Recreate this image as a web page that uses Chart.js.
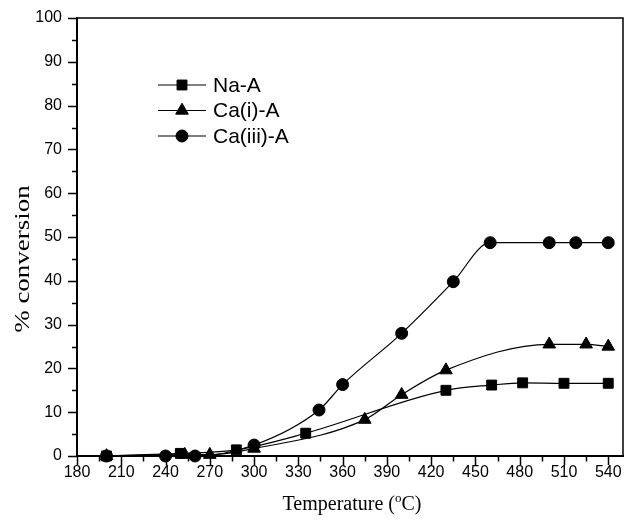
<!DOCTYPE html>
<html>
<head>
<meta charset="utf-8">
<script src="https://cdn.jsdelivr.net/npm/chart.js@4"></script>
<style>
  html, body { margin: 0; padding: 0; background: #fff; }
  #chart1 { display: block; }
</style>
</head>
<body>
<canvas id="chart1"></canvas>
<script>
// values (temperature in °C, % conversion)
const tempNa = [200, 250, 288, 335, 430, 461, 482, 510, 540];
const convNa = [0, 0.6, 1.4, 5.2, 15, 16.2, 16.7, 16.6, 16.6];

const tempCaI = [200, 253, 270, 300, 375, 400, 430, 500, 525, 540];
const convCaI = [0, 0.3, 0.3, 1.7, 8.3, 14, 19.6, 25.5, 25.5, 25];

const tempCaIII = [200, 240, 260, 300, 344, 360, 400, 435, 460, 500, 518, 540];
const convCaIII = [0, 0, 0, 2.5, 10.5, 16.3, 28, 39.8, 48.7, 48.7, 48.7, 48.7];

const seriesNames = ['Na-A', 'Ca(i)-A', 'Ca(iii)-A'];
const markers = ['rect', 'triangle', 'circle'];
const markerSizes = [7, 7.3, 6];

const xTickStep = 15;
const xTickLast = 540;

const xTitle = ['Temperature (', 'o', 'C)'];
const yTitle = '% conversion';

const canvas = document.getElementById('chart1');
canvas.width = 624;
canvas.height = 527;
const ctx = canvas.getContext('2d');

const sansFont = "'Liberation Sans', Arial, sans-serif";
const serifFont = "'Liberation Serif', 'Times New Roman', serif";

function points(xs, ys) {
  return xs.map((x, i) => ({ x: x, y: ys[i] }));
}

const allData = [points(tempNa, convNa), points(tempCaI, convCaI), points(tempCaIII, convCaIII)];

const datasets = allData.map((d, i) => ({
  label: seriesNames[i],
  data: d,
  borderColor: '#000',
  backgroundColor: '#000',
  borderWidth: 1.2,
  pointStyle: markers[i],
  pointRadius: markerSizes[i],
  pointBorderWidth: 1,
  pointBackgroundColor: '#000',
  cubicInterpolationMode: 'monotone',
  fill: false,
  clip: false,
}));

// ticks (major + minor), frame, titles and legend
const decor = {
  id: 'decor',
  afterDraw(chart) {
    const c = chart.ctx;
    const area = chart.chartArea;
    const xs = chart.scales.x;
    const ys = chart.scales.y;
    c.save();
    c.strokeStyle = '#000';

    // top + right frame
    c.lineWidth = 1.5;
    c.beginPath();
    c.moveTo(area.left, area.top);
    c.lineTo(area.right, area.top);
    c.lineTo(area.right, area.bottom);
    c.stroke();

    // tick marks, outward
    c.lineWidth = 1.5;
    c.beginPath();
    xs.ticks.forEach(t => {
      const px = Math.round(xs.getPixelForValue(t.value)) + 0.5;
      const len = t.value % 30 === 0 ? 9 : 5.5;
      c.moveTo(px, area.bottom);
      c.lineTo(px, area.bottom + len);
    });
    ys.ticks.forEach(t => {
      const py = Math.round(ys.getPixelForValue(t.value)) + 0.5;
      const len = t.value % 10 === 0 ? 9 : 5;
      c.moveTo(area.left, py);
      c.lineTo(area.left - len, py);
    });
    c.stroke();

    // x title with superscript o
    c.fillStyle = '#000';
    c.textBaseline = 'alphabetic';
    c.font = '20px ' + serifFont;
    const w1 = c.measureText(xTitle[0]).width;
    const w3 = c.measureText(xTitle[2]).width;
    c.font = '13px ' + serifFont;
    const w2 = c.measureText(xTitle[1]).width;
    const total = w1 + w2 + w3;
    let tx = 352 - total / 2;
    const ty = 510;
    c.font = '20px ' + serifFont;
    c.textAlign = 'left';
    c.fillText(xTitle[0], tx, ty);
    tx += w1;
    c.font = '13px ' + serifFont;
    c.fillText(xTitle[1], tx, ty - 8);
    tx += w2;
    c.font = '20px ' + serifFont;
    c.fillText(xTitle[2], tx, ty);

    // y title (the original is drawn stretched along its length)
    c.save();
    c.translate(24, 259);
    c.rotate(-Math.PI / 2);
    c.scale(1.35, 1);
    c.textAlign = 'center';
    c.textBaseline = 'middle';
    c.font = '20px ' + serifFont;
    c.fillText(yTitle, 0, 0);
    c.restore();

    // legend
    const rowY = [85, 110.5, 136];
    c.font = '21px ' + sansFont;
    c.textAlign = 'left';
    c.textBaseline = 'middle';
    seriesNames.forEach((name, i) => {
      const y = rowY[i];
      c.lineWidth = 1.2;
      c.beginPath();
      c.moveTo(158, y);
      c.lineTo(206, y);
      c.stroke();
      c.fillStyle = '#000';
      c.lineWidth = 1;
      Chart.helpers.drawPoint(c, {
        pointStyle: markers[i],
        radius: markerSizes[i],
        rotation: 0,
        borderWidth: 1,
      }, 182, y);
      c.fillText(name, 213, y + 1);
    });
    c.restore();
  },
};

new Chart(ctx, {
  type: 'line',
  data: { datasets: datasets },
  plugins: [decor],
  options: {
    responsive: false,
    maintainAspectRatio: false,
    animation: false,
    layout: { autoPadding: false, padding: { top: 18, right: 1, left: 0, bottom: 0 } },
    plugins: {
      legend: { display: false },
      tooltip: { enabled: false },
    },
    scales: {
      x: {
        type: 'linear',
        min: 180,
        max: 550,
        grid: { display: false, drawTicks: false },
        border: { display: true, color: '#000', width: 2 },
        afterBuildTicks: s => {
          const t = [];
          for (let v = s.min; v <= xTickLast; v += xTickStep) t.push({ value: v });
          s.ticks = t;
        },
        afterFit: s => {
          s.height = 71;
          s.paddingLeft = 0;
          s.paddingRight = 0;
        },
        ticks: {
          autoSkip: false,
          maxRotation: 0,
          padding: 7,
          color: '#000',
          font: { family: sansFont, size: 16 },
          callback: v => (v % 30 === 0 ? v : ''),
        },
      },
      y: {
        min: 0,
        max: 100,
        grid: { display: false, drawTicks: false },
        border: { display: true, color: '#000', width: 2 },
        afterFit: s => {
          s.width = 77;
          s.paddingTop = 0;
          s.paddingBottom = 0;
        },
        ticks: {
          stepSize: 5,
          autoSkip: false,
          padding: 15,
          color: '#000',
          font: { family: sansFont, size: 16 },
          callback: v => (v % 10 === 0 ? v : ''),
        },
      },
    },
  },
});
</script>
</body>
</html>
